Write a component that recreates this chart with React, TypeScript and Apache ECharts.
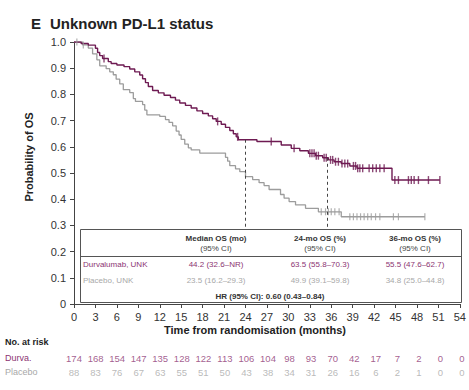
import React, { useEffect, useRef } from "react";
import * as echarts from "echarts";

// Kaplan–Meier step data (time in months, survival probability)
const durvaTime = [0, 1.0, 2.0, 3.0, 3.3, 3.6, 4.0, 4.8, 5.2, 6.0, 7.0, 7.8, 8.5, 9.2, 9.6, 10.0, 10.4, 11.0, 11.8, 12.6, 13.5, 14.2, 14.8, 15.6, 16.4, 17.2, 18.0, 18.8, 19.4, 19.9, 20.6, 21.2, 21.8, 22.3, 22.7, 23.0, 25.6, 29.0, 30.4, 31.6, 32.8, 33.8, 34.8, 35.6, 36.4, 37.4, 38.6, 39.6, 44.5, 51.2];
const durvaSurv = [1.0, 0.994, 0.988, 0.976, 0.96, 0.948, 0.937, 0.925, 0.918, 0.912, 0.906, 0.897, 0.886, 0.874, 0.86, 0.845, 0.83, 0.815, 0.806, 0.797, 0.788, 0.778, 0.767, 0.758, 0.748, 0.737, 0.727, 0.718, 0.707, 0.697, 0.686, 0.674, 0.662, 0.65, 0.638, 0.627, 0.62, 0.607, 0.594, 0.585, 0.575, 0.566, 0.558, 0.55, 0.543, 0.536, 0.527, 0.518, 0.473, 0.473];
const placeboTime = [0, 1.2, 2.0, 2.6, 3.2, 3.6, 4.5, 5.0, 5.5, 5.9, 6.4, 6.9, 7.8, 8.3, 8.6, 9.6, 9.9, 10.2, 12.0, 12.8, 13.3, 13.8, 14.3, 14.7, 15.0, 15.5, 16.0, 16.4, 17.6, 21.2, 21.5, 21.8, 22.6, 23.2, 24.0, 25.0, 25.9, 26.6, 27.3, 28.9, 29.4, 30.1, 31.0, 32.4, 34.2, 37.4, 49.1];
const placeboSurv = [1.0, 0.989, 0.977, 0.955, 0.932, 0.909, 0.898, 0.886, 0.875, 0.858, 0.84, 0.818, 0.807, 0.784, 0.773, 0.761, 0.74, 0.722, 0.716, 0.704, 0.693, 0.68, 0.66, 0.645, 0.628, 0.61, 0.596, 0.588, 0.576, 0.56, 0.545, 0.528, 0.516, 0.505, 0.486, 0.475, 0.463, 0.452, 0.437, 0.418, 0.404, 0.391, 0.378, 0.365, 0.352, 0.333, 0.333];

// Censoring times
const durvaCensor = [4.2, 20.1, 22.9, 27.6, 30.8, 33.0, 33.3, 33.6, 33.9, 34.2, 35.0, 35.3, 35.9, 36.2, 36.6, 37.0, 37.5, 37.9, 38.3, 39.1, 39.4, 39.7, 40.0, 40.4, 41.3, 41.8, 42.3, 42.8, 43.4, 44.9, 45.4, 46.8, 47.2, 47.6, 48.2, 49.6, 51.2];
const placeboCensor = [0.4, 1.3, 34.6, 35.2, 35.6, 36.0, 36.5, 37.1, 38.6, 39.1, 39.6, 40.1, 40.6, 41.1, 41.6, 42.2, 42.8, 44.7, 45.4, 49.1];

// Landmark dashed lines (months)
const landmarks = [24, 35.5];
const landmarkBottom = 0.286;

// Number at risk
const riskTimes = [0, 3, 6, 9, 12, 15, 18, 21, 24, 27, 30, 33, 36, 39, 42, 45, 48, 51, 54];
const riskGroups = ["Durva.", "Placebo"];
const durvaRisk = [174, 168, 154, 147, 135, 128, 122, 113, 106, 104, 98, 93, 70, 42, 17, 7, 2, 0, 0];
const placeboRisk = [88, 83, 76, 67, 63, 55, 51, 50, 43, 38, 34, 31, 26, 16, 6, 2, 1, 0, 0];

// Summary table
const tableHeaders = [["Median OS (mo)", "(95% CI)"], ["24-mo OS (%)", "(95% CI)"], ["36-mo OS (%)", "(95% CI)"]];
const durvaRow = ["Durvalumab, UNK", "44.2 (32.6–NR)", "63.5 (55.8–70.3)", "55.5 (47.6–62.7)"];
const placeboRow = ["Placebo, UNK", "23.5 (16.2–29.3)", "49.9 (39.1–59.8)", "34.8 (25.0–44.8)"];
const hrText = "HR (95% CI): 0.60 (0.43–0.84)";

const DURVA_LINE = "#6e1a52";
const DURVA_TEXT = "#8c3472";
const PLACEBO_LINE = "#9c9c9c";
const PLACEBO_TEXT = "#a8a8a8";
const FONT = "Liberation Sans, Arial, sans-serif";

function survAt(times: number[], surv: number[], t: number) {
  let s = surv[0];
  for (let i = 0; i < times.length; i++) {
    if (times[i] <= t) s = surv[i];
  }
  return s;
}

export default function App() {
  const ref = useRef<HTMLDivElement>(null);
  useEffect(() => {
    const chart = echarts.init(ref.current!, null, { renderer: "svg" });
    const colX = [216, 320, 415];
    const tableGraphics: any[] = [
      { type: "rect", shape: { x: 80.5, y: 229.5, width: 381, height: 73 }, style: { fill: "#fff", stroke: "#555", lineWidth: 1 }, z: 10 },
      { type: "line", shape: { x1: 80.5, y1: 256.5, x2: 461.5, y2: 256.5 }, style: { stroke: "#555", lineWidth: 1 }, z: 11 },
    ];
    tableHeaders.forEach((h, i) => {
      tableGraphics.push({ type: "text", x: colX[i], y: 238, z: 12, style: { text: h[0], font: `bold 8px ${FONT}`, fill: "#333", textAlign: "center", textVerticalAlign: "middle" } });
      tableGraphics.push({ type: "text", x: colX[i], y: 248, z: 12, style: { text: h[1], font: `8px ${FONT}`, fill: "#444", textAlign: "center", textVerticalAlign: "middle" } });
    });
    [durvaRow, placeboRow].forEach((row, r) => {
      const y = r === 0 ? 264 : 280;
      const fill = r === 0 ? DURVA_TEXT : PLACEBO_TEXT;
      tableGraphics.push({ type: "text", x: 83, y, z: 12, style: { text: row[0], font: `8px ${FONT}`, fill, textAlign: "left", textVerticalAlign: "middle" } });
      for (let c = 1; c < 4; c++) {
        tableGraphics.push({ type: "text", x: colX[c - 1], y, z: 12, style: { text: row[c], font: `8px ${FONT}`, fill, textAlign: "center", textVerticalAlign: "middle" } });
      }
    });
    tableGraphics.push({ type: "text", x: 270, y: 296, z: 12, style: { text: hrText, font: `bold 8px ${FONT}`, fill: "#333", textAlign: "center", textVerticalAlign: "middle" } });

    const option: any = {
      animation: false,
      textStyle: { fontFamily: FONT },
      title: [
        { text: "E", left: 26, top: 11, textStyle: { fontSize: 15, fontWeight: "bold", color: "#222", fontFamily: FONT } },
        { text: "Unknown PD-L1 status", left: 45, top: 11, textStyle: { fontSize: 15, fontWeight: "bold", color: "#222", fontFamily: FONT } },
      ],
      grid: [
        { left: 74, right: 7, top: 42, height: 262 },
        { left: 74, right: 7, top: 351, height: 28 },
      ],
      xAxis: [
        {
          type: "value", gridIndex: 0, min: 0, max: 54, interval: 3,
          splitLine: { show: false },
          axisLine: { lineStyle: { color: "#444", width: 1 } },
          axisTick: { length: 4, lineStyle: { color: "#444" } },
          axisLabel: { fontSize: 11, color: "#333", margin: 7, fontFamily: FONT },
        },
        { type: "value", gridIndex: 1, min: 0, max: 54, show: false },
      ],
      yAxis: [
        {
          type: "value", gridIndex: 0, min: 0, max: 1, interval: 0.1,
          splitLine: { show: false },
          axisLine: { show: true, lineStyle: { color: "#444", width: 1 } },
          axisTick: { show: true, length: 4, lineStyle: { color: "#444" } },
          axisLabel: { fontSize: 11, color: "#333", margin: 8, fontFamily: FONT, formatter: (v: number) => (v === 0 ? "0" : v.toFixed(1)) },
        },
        {
          type: "category", gridIndex: 1, data: riskGroups, inverse: true,
          axisLine: { show: false }, axisTick: { show: false }, splitLine: { show: false },
          axisLabel: {
            align: "left", margin: 69, fontSize: 9, fontFamily: FONT,
            color: (_v: any, i: number) => (i === 0 ? DURVA_TEXT : PLACEBO_TEXT),
          },
        },
      ],
      graphic: [
        { type: "text", x: 29, y: 157, rotation: Math.PI / 2, style: { text: "Probability of OS", font: `bold 11px ${FONT}`, fill: "#222", textAlign: "center", textVerticalAlign: "middle" } },
        { type: "text", x: 255, y: 330, style: { text: "Time from randomisation (months)", font: `bold 11px ${FONT}`, fill: "#222", textAlign: "center", textVerticalAlign: "middle" } },
        { type: "text", x: 5, y: 342, style: { text: "No. at risk", font: `bold 9px ${FONT}`, fill: "#222", textAlign: "left", textVerticalAlign: "middle" } },
        ...tableGraphics,
      ],
      series: [
        {
          name: "Placebo", type: "line", step: "end", xAxisIndex: 0, yAxisIndex: 0,
          data: placeboTime.map((t, i) => [t, placeboSurv[i]]),
          symbol: "none", lineStyle: { color: PLACEBO_LINE, width: 1.3 }, z: 2,
        },
        {
          name: "Durvalumab", type: "line", step: "end", xAxisIndex: 0, yAxisIndex: 0,
          data: durvaTime.map((t, i) => [t, durvaSurv[i]]),
          symbol: "none", lineStyle: { color: DURVA_LINE, width: 1.4 }, z: 3,
          markLine: {
            symbol: "none", silent: true, label: { show: false },
            lineStyle: { type: [3, 3], color: "#444", width: 1 },
            data: landmarks.map((m) => [
              { coord: [m, survAt(durvaTime, durvaSurv, m)] },
              { coord: [m, landmarkBottom] },
            ]),
          },
        },
        {
          name: "Placebo censored", type: "scatter", xAxisIndex: 0, yAxisIndex: 0,
          data: placeboCensor.map((t) => [t, survAt(placeboTime, placeboSurv, t)]),
          symbol: "rect", symbolSize: [1.2, 7], itemStyle: { color: PLACEBO_LINE }, z: 4,
        },
        {
          name: "Durvalumab censored", type: "scatter", xAxisIndex: 0, yAxisIndex: 0,
          data: durvaCensor.map((t) => [t, survAt(durvaTime, durvaSurv, t)]),
          symbol: "rect", symbolSize: [1.4, 8], itemStyle: { color: DURVA_LINE }, z: 5,
        },
        {
          name: "Durva at risk", type: "scatter", xAxisIndex: 1, yAxisIndex: 1,
          data: durvaRisk.map((v, i) => [riskTimes[i], riskGroups[0], v]),
          symbolSize: 1, itemStyle: { color: "transparent" },
          label: { show: true, position: "inside", formatter: (p: any) => String(p.value[2]), fontSize: 9.5, color: DURVA_TEXT, fontFamily: FONT },
        },
        {
          name: "Placebo at risk", type: "scatter", xAxisIndex: 1, yAxisIndex: 1,
          data: placeboRisk.map((v, i) => [riskTimes[i], riskGroups[1], v]),
          symbolSize: 1, itemStyle: { color: "transparent" },
          label: { show: true, position: "inside", formatter: (p: any) => String(p.value[2]), fontSize: 9.5, color: PLACEBO_TEXT, fontFamily: FONT },
        },
      ],
    };
    chart.setOption(option);
    return () => chart.dispose();
  }, []);
  return <div ref={ref} style={{ position: "absolute", left: 0, top: 0, width: 469, height: 390 }} />;
}
